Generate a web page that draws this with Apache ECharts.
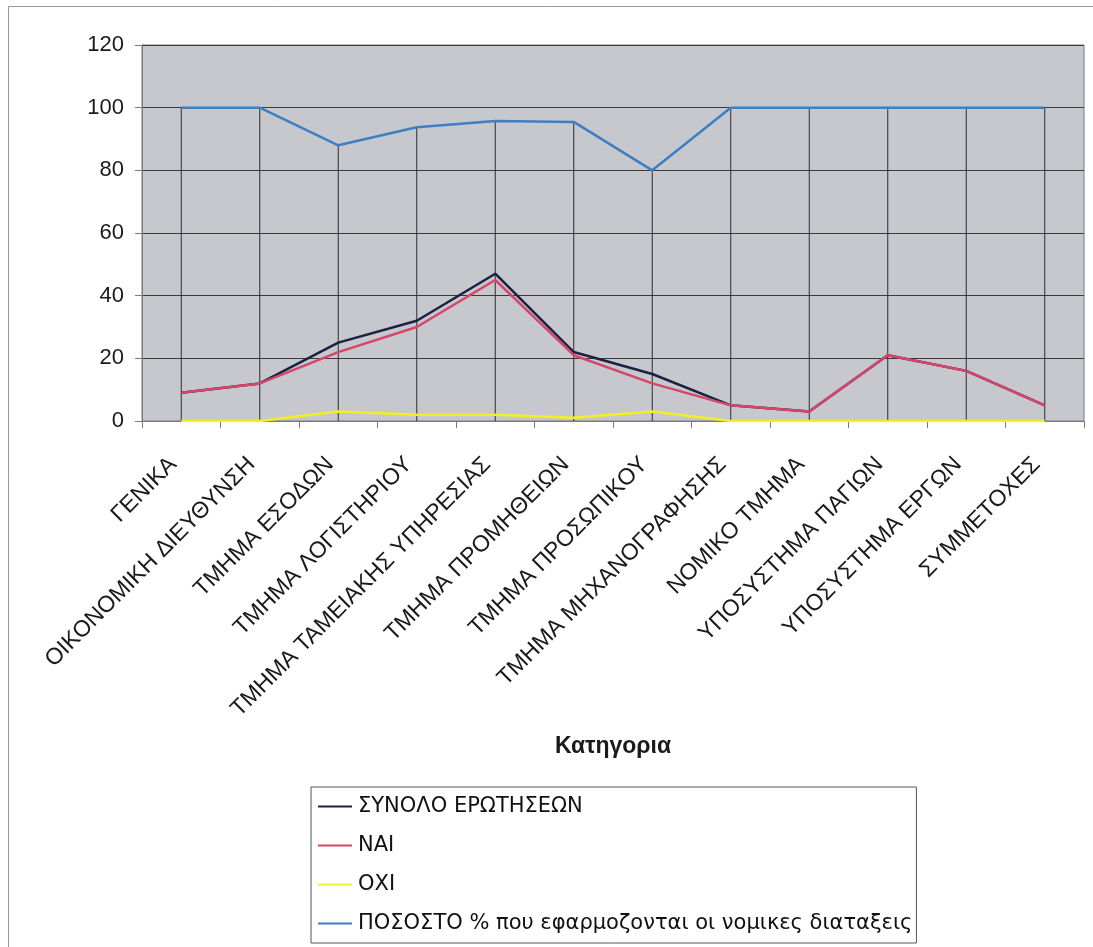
<!DOCTYPE html>
<html>
<head>
<meta charset="utf-8">
<script src="https://cdn.jsdelivr.net/npm/echarts@6/dist/echarts.min.js"></script>
<style>
  html, body { margin: 0; padding: 0; background: #fff; }
  #chart { width: 1093px; height: 947px; }
</style>
</head>
<body>
<div id="chart"></div>
<script>
const categories = [
    'ΓΕΝΙΚΑ', 'ΟΙΚΟΝΟΜΙΚΗ ΔΙΕΥΘΥΝΣΗ', 'ΤΜΗΜΑ ΕΣΟΔΩΝ', 'ΤΜΗΜΑ ΛΟΓΙΣΤΗΡΙΟΥ',
    'ΤΜΗΜΑ ΤΑΜΕΙΑΚΗΣ ΥΠΗΡΕΣΙΑΣ', 'ΤΜΗΜΑ ΠΡΟΜΗΘΕΙΩΝ', 'ΤΜΗΜΑ ΠΡΟΣΩΠΙΚΟΥ',
    'ΤΜΗΜΑ ΜΗΧΑΝΟΓΡΑΦΗΣΗΣ', 'ΝΟΜΙΚΟ ΤΜΗΜΑ', 'ΥΠΟΣΥΣΤΗΜΑ ΠΑΓΙΩΝ',
    'ΥΠΟΣΥΣΤΗΜΑ ΕΡΓΩΝ', 'ΣΥΜΜΕΤΟΧΕΣ'
];
const totalQuestions = [9, 12, 25, 32, 47, 22, 15, 5, 3, 21, 16, 5];
const yesValues = [9, 12, 22, 30, 45, 21, 12, 5, 3, 21, 16, 5];
const noValues = [0, 0, 3, 2, 2, 1, 3, 0, 0, 0, 0, 0];
const percentValues = [100, 100, 88, 93.75, 95.74, 95.45, 80, 100, 100, 100, 100, 100];
const yTicks = [0, 20, 40, 60, 80, 100, 120];

const seriesNames = [
    'ΣΥΝΟΛΟ ΕΡΩΤΗΣΕΩΝ', 'ΝΑΙ', 'ΟΧΙ',
    'ΠΟΣΟΣΤΟ % που εφαρμοζονται οι νομικες διαταξεις'
];

// κάθετες γραμμές από το υψηλότερο σημείο κάθε κατηγορίας μέχρι το 0
const dropLines = categories.map((_, i) =>
    Math.max(totalQuestions[i], yesValues[i], noValues[i], percentValues[i]));

const chart = echarts.init(document.getElementById('chart'), null, { renderer: 'canvas' });

const font = 'Liberation Sans, Arial, sans-serif';

function lineSeries(name, data, color, width, z) {
    return {
        name: name,
        type: 'line',
        data: data,
        symbol: 'none',
        z: z,
        lineStyle: { color: color, width: width },
        itemStyle: { color: color },
        emphasis: { disabled: true }
    };
}

chart.setOption({
    animation: false,
    backgroundColor: '#fff',
    textStyle: { fontFamily: font },
    // λεπτό πλαίσιο γύρω από το γράφημα
    graphic: [
        { type: 'line', shape: { x1: 8.5, y1: 6.5, x2: 8.5, y2: 947 }, style: { stroke: '#9a9a9a', lineWidth: 1 } },
        { type: 'line', shape: { x1: 8.5, y1: 6.5, x2: 1093, y2: 6.5 }, style: { stroke: '#9a9a9a', lineWidth: 1 } }
    ],
    grid: {
        left: 142, right: 9, top: 45, bottom: 526,
        show: true,
        backgroundColor: '#c6c8ce',
        borderColor: '#7a7a7a',
        borderWidth: 1
    },
    legend: {
        orient: 'vertical',
        left: 311,
        top: 787,
        padding: [9, 4, 9, 7],
        itemGap: 18,
        itemWidth: 34,
        itemHeight: 2,
        icon: 'rect',
        backgroundColor: '#fff',
        borderColor: '#555',
        borderWidth: 1,
        borderRadius: 0,
        textStyle: { fontSize: 21, color: '#111', fontFamily: 'DejaVu Sans', padding: [0, 0, 0, 1] },
        data: seriesNames
    },
    xAxis: {
        type: 'category',
        data: categories,
        boundaryGap: true,
        name: 'Κατηγορια',
        nameLocation: 'middle',
        nameGap: 314,
        nameTextStyle: { fontSize: 23, fontWeight: 'bold', color: '#1a1a1a' },
        axisLine: { lineStyle: { color: '#7a7a7a', width: 1 } },
        axisTick: { show: true, interval: 0, length: 7, lineStyle: { color: '#7a7a7a' } },
        axisLabel: {
            interval: 0,
            rotate: 45,
            fontSize: 23,
            color: '#1a1a1a',
            margin: 48,
            verticalAlign: 'bottom'
        },
        splitLine: { show: false }
    },
    yAxis: {
        type: 'value',
        min: yTicks[0],
        max: yTicks[yTicks.length - 1],
        interval: 20,
        axisLine: { show: true, lineStyle: { color: '#7a7a7a' } },
        axisTick: { show: true, length: 7, lineStyle: { color: '#7a7a7a' } },
        axisLabel: { fontSize: 22, color: '#1a1a1a', margin: 18 },
        splitLine: { show: true, lineStyle: { color: '#3a3a3a', width: 1 } }
    },
    series: [
        {
            name: 'drop',
            type: 'bar',
            data: dropLines,
            barWidth: 1,
            z: 1,
            silent: true,
            itemStyle: { color: '#2e2e2e' },
            legendHoverLink: false
        },
        lineSeries(seriesNames[0], totalQuestions, '#1b2142', 2.5, 3),
        lineSeries(seriesNames[1], yesValues, '#d8456a', 2.5, 4),
        lineSeries(seriesNames[2], noValues, '#f3ef22', 2.5, 5),
        lineSeries(seriesNames[3], percentValues, '#3d7fc2', 2.5, 6)
    ]
});
</script>
</body>
</html>
